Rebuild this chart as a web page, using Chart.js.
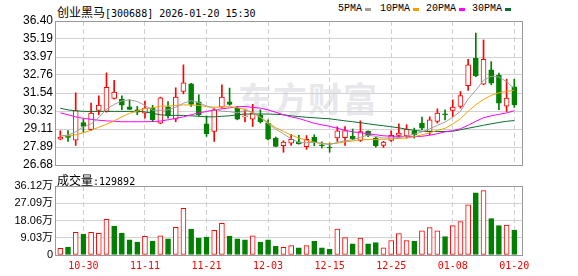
<!DOCTYPE html>
<html>
<head>
<meta charset="utf-8">
<title>创业黑马 K线</title>
<script src="https://cdn.jsdelivr.net/npm/chart.js@4.4.1/dist/chart.umd.min.js"></script>
<style>
  body { margin: 0; width: 578px; height: 276px; background: #fff; position: relative; overflow: hidden; }
  canvas { position: absolute; left: 0; }
  .txt { position: absolute; white-space: nowrap; line-height: 12px; color: #000; }
  .cjk { font: 12px 'Noto Sans CJK SC', sans-serif; }
  .num { font: 10px 'DejaVu Sans Mono', monospace; }
  .leg { font: 10px 'Liberation Mono', monospace; }
  .box { position: absolute; width: 6px; height: 3px; top: 8px; }
  #wm { position: absolute; left: 238px; top: 73px; line-height: 34px; font: bold 34px 'Noto Sans CJK SC', sans-serif; color: #e8e8ec; letter-spacing: 1px; }
</style>
</head>
<body>
<div id="wm">东方财富</div>
<div class="txt" style="left:57px;top:3px"><span class="cjk">创业黑马</span><span class="num">[300688] 2026-01-20 15:30</span></div>
<div class="txt leg" style="left:338px;top:3px">5PMA</div><div class="box" style="left:365px;background:#a0a0a0"></div>
<div class="txt leg" style="left:380px;top:3px">10PMA</div><div class="box" style="left:413px;background:#f2a200"></div>
<div class="txt leg" style="left:426px;top:3px">20PMA</div><div class="box" style="left:459px;background:#ff00ff"></div>
<div class="txt leg" style="left:472px;top:3px">30PMA</div><div class="box" style="left:505px;background:#0b6e2f"></div>
<canvas id="kline" width="578" height="180" style="top:0"></canvas>
<canvas id="vol" width="578" height="106" style="top:170px"></canvas>
<div class="txt" style="left:57px;top:171px"><span class="cjk">成交量</span><span class="num">:129892</span></div>
<script>
// trading days shown in the window (MM-DD)
const dates = [
  '10-27','10-28','10-29','10-30','10-31','11-03','11-04','11-05','11-06','11-07',
  '11-10','11-11','11-12','11-13','11-14','11-17','11-18','11-19','11-20','11-21',
  '11-24','11-25','11-26','11-27','11-28','12-01','12-02','12-03','12-04','12-05',
  '12-08','12-09','12-10','12-11','12-12','12-15','12-16','12-17','12-18','12-19',
  '12-22','12-23','12-24','12-25','12-26','12-29','12-30','12-31','01-05','01-06',
  '01-07','01-08','01-09','01-12','01-13','01-14','01-15','01-16','01-19','01-20'
];
// indexes of the dates that get a label and a dashed grid line
const dateTickIdx = [3, 11, 19, 27, 35, 43, 51, 59];

// daily prices
const opens = [
  28.42,28.62,28.36,29.55,29.06,30.36,30.30,31.18,31.13,30.61,
  30.41,30.18,30.51,29.50,30.61,29.78,31.64,32.16,30.94,29.46,
  28.94,30.59,30.94,30.52,29.93,29.78,30.04,29.51,28.50,27.98,
  28.16,28.25,27.91,28.54,28.00,27.86,28.50,28.53,28.61,28.34,
  28.96,28.49,28.01,28.34,28.67,28.65,28.99,29.51,28.94,29.62,
  30.09,30.36,30.63,32.04,33.89,32.14,33.10,32.73,30.65,31.95
];
const highs = [
  28.99,29.01,31.55,29.78,30.86,31.35,32.90,32.39,31.35,31.08,
  30.63,31.00,30.71,31.26,30.96,31.89,33.44,32.20,31.42,30.00,
  30.52,32.09,31.87,30.63,30.41,30.78,30.41,29.73,28.57,28.32,
  28.75,28.69,28.67,28.72,28.25,28.16,29.26,29.28,29.11,29.66,
  28.99,28.55,28.28,28.99,29.46,29.40,29.17,29.91,29.93,30.47,
  30.41,31.08,31.64,33.82,35.59,35.12,33.66,32.88,32.47,32.47
];
const lows = [
  28.38,28.27,28.00,28.88,28.99,30.07,30.25,31.13,30.41,30.41,
  30.07,29.84,29.60,29.46,29.84,29.60,31.48,30.63,29.97,28.61,
  28.27,30.52,30.71,29.73,29.58,29.28,29.51,28.38,27.91,27.54,
  28.01,28.08,27.74,27.98,27.83,27.54,28.27,28.01,28.38,28.27,
  28.59,27.88,27.86,28.27,28.50,28.50,28.50,29.06,28.72,29.51,
  29.73,29.95,30.52,31.71,32.65,32.09,32.09,30.41,30.29,30.57
];
const closes = [
  28.56,28.54,30.36,29.28,30.18,30.72,31.93,31.60,30.72,30.44,
  30.25,30.52,29.73,31.21,30.00,31.26,32.22,30.77,30.07,28.79,
  30.41,31.26,30.77,29.77,29.95,30.18,29.60,28.42,27.93,28.22,
  28.42,28.11,28.42,28.22,27.98,27.83,28.99,29.00,28.45,28.94,
  28.65,27.98,28.22,28.69,28.84,29.11,28.72,29.17,29.73,30.18,
  30.07,30.59,31.36,33.44,32.70,33.82,32.20,30.86,31.19,30.74
];

// moving averages as drawn
const ma5 = [
  28.65,28.69,28.92,29.26,29.45,29.88,30.45,30.77,31.01,31.08,
  30.97,30.69,30.38,30.37,30.40,30.58,30.85,31.02,30.88,30.67,
  30.48,30.31,30.28,30.20,30.35,30.25,29.90,29.45,29.10,28.78,
  28.45,28.20,28.18,28.20,28.15,28.05,28.20,28.32,28.38,28.55,
  28.70,28.61,28.50,28.51,28.53,28.63,28.76,28.91,29.12,29.36,
  29.57,29.90,30.30,31.14,31.72,32.40,32.67,32.63,32.30,31.85
];
const ma10 = [
  28.65,28.65,28.72,28.86,29.02,29.23,29.43,29.66,29.93,30.17,
  30.32,30.50,30.54,30.65,30.66,30.70,30.74,30.73,30.70,30.62,
  30.58,30.59,30.62,30.54,30.45,30.20,29.90,29.55,29.20,28.95,
  28.70,28.50,28.35,28.22,28.12,28.10,28.15,28.24,28.30,28.38,
  28.40,28.40,28.42,28.45,28.47,28.50,28.59,28.72,28.85,29.02,
  29.15,29.45,29.80,30.30,30.75,31.10,31.38,31.55,31.65,31.72
];
const ma20 = [
  30.20,30.07,29.93,29.83,29.76,29.70,29.66,29.63,29.60,29.60,
  29.60,29.60,29.61,29.65,29.73,29.83,29.93,30.07,30.20,30.29,
  30.40,30.47,30.54,30.61,30.63,30.57,30.52,30.40,30.24,30.07,
  29.93,29.82,29.66,29.50,29.39,29.29,29.16,29.02,28.92,28.86,
  28.79,28.72,28.65,28.62,28.62,28.59,28.59,28.62,28.69,28.79,
  28.92,28.99,29.13,29.36,29.63,29.87,30.00,30.10,30.20,30.34
];
const ma30 = [
  30.51,30.40,30.34,30.30,30.30,30.30,30.30,30.30,30.30,30.30,
  30.30,30.27,30.17,30.07,30.03,30.03,30.03,30.00,29.97,29.93,
  29.93,29.97,30.00,30.07,30.12,30.12,30.12,30.12,30.10,30.07,
  30.00,29.95,29.90,29.87,29.83,29.80,29.73,29.66,29.60,29.53,
  29.46,29.39,29.33,29.26,29.19,29.09,29.02,28.96,28.94,28.94,
  28.94,28.96,29.06,29.16,29.26,29.36,29.46,29.55,29.63,29.68
];

// volume in 万 and whether its bar is red (1) or green (0)
const volumes = [
  3.5,4.2,11.9,11.0,11.9,11.3,18.7,15.2,11.5,7.9,
  6.8,9.8,7.3,10.1,8.4,14.5,24.4,13.6,8.9,9.4,
  12.9,16.6,9.9,8.4,7.9,10.1,6.8,7.9,4.7,4.0,
  4.9,3.8,4.9,7.2,3.8,3.0,13.6,9.1,5.9,8.9,
  5.9,6.5,3.7,7.5,11.2,7.5,7.2,12.7,14.3,12.7,
  9.6,15.4,17.5,26.3,32.6,33.7,19.0,15.4,15.7,12.99
];
const volUp = [
  1,0,1,0,1,1,1,0,0,0,
  0,1,0,1,0,1,1,0,0,0,
  1,1,0,0,0,1,0,0,0,1,
  1,0,1,0,0,0,1,1,0,1,
  0,0,1,1,1,1,0,1,1,1,
  0,1,1,1,0,1,0,0,1,0
];

// axis tick values
const priceTicks = [26.68, 27.89, 29.11, 30.32, 31.54, 32.76, 33.97, 35.19, 36.40];
const volTicks = [0, 9.03, 18.06, 27.09, 36.12];

const RED = '#ff0000';
const GREEN = '#008000';
const pt = arr => arr.map((v, i) => ({ x: i, y: v }));
const isUp = i => closes[i] >= opens[i];

// grey box round the plot area
const frame = {
  id: 'frame',
  afterDraw(chart) {
    const a = chart.chartArea;
    const ctx = chart.ctx;
    const x1 = Math.round(a.left) - 0.5, x2 = Math.round(a.right) + 0.5;
    const y1 = Math.round(a.top) + 0.5, y2 = Math.round(a.bottom) + 0.5;
    ctx.save();
    ctx.strokeStyle = '#999';
    ctx.lineWidth = 1;
    ctx.strokeRect(x1, y1, x2 - x1, y2 - y1);
    ctx.restore();
  }
};

const xAxis = (labels) => ({
  type: 'linear',
  min: -0.56,
  max: 60.0,
  offset: false,
  afterBuildTicks: s => { s.ticks = dateTickIdx.map(v => ({ value: v })); },
  afterFit: s => { s.height = labels ? 21 : 0; },
  grid: { color: '#d0d0d0', drawTicks: false, offset: false },
  border: { display: false, dash: [5, 3] },
  ticks: {
    display: labels,
    autoSkip: false,
    maxRotation: 0,
    padding: 5,
    color: RED,
    font: { family: "'DejaVu Sans Mono', monospace", size: 10 },
    callback: v => dates[v]
  }
});

const baseOptions = {
  responsive: false,
  animation: false,
  events: [],
  plugins: { legend: { display: false }, tooltip: { enabled: false } }
};

// price panel: wicks, bodies and the four averages
new Chart(document.getElementById('kline'), {
  type: 'bar',
  data: {
    datasets: [
      { type: 'line', data: pt(ma5), borderColor: '#a0a0a0', borderWidth: 1, pointRadius: 0, order: 0 },
      { type: 'line', data: pt(ma10), borderColor: '#f2a200', borderWidth: 1, pointRadius: 0, order: 0 },
      { type: 'line', data: pt(ma20), borderColor: '#ff00ff', borderWidth: 1, pointRadius: 0, order: 0 },
      { type: 'line', data: pt(ma30), borderColor: '#0b6e2f', borderWidth: 1, pointRadius: 0, order: 0 },
      {
        data: opens.map((o, i) => ({ x: i, y: [o, closes[i]] })),
        backgroundColor: opens.map((o, i) => isUp(i) ? '#fff' : GREEN),
        borderColor: opens.map((o, i) => isUp(i) ? RED : GREEN),
        borderWidth: 1, borderSkipped: false, barThickness: 5, minBarLength: 1,
        grouped: false, order: 1
      },
      {
        data: lows.map((l, i) => ({ x: i, y: [l, highs[i]] })),
        backgroundColor: opens.map((o, i) => isUp(i) ? RED : GREEN),
        borderWidth: 0, barThickness: 1, grouped: false, order: 2
      }
    ]
  },
  options: {
    ...baseOptions,
    layout: { padding: { left: 0, right: 56, top: 21, bottom: 15 } },
    scales: {
      x: xAxis(false),
      y: {
        min: 26.68,
        max: 36.40,
        afterBuildTicks: s => { s.ticks = priceTicks.map(v => ({ value: v })); },
        afterFit: s => { s.width = 56; },
        grid: { color: '#d2d2d2', drawTicks: false },
        border: { display: false },
        ticks: {
          padding: 3,
          color: '#000',
          font: { family: "'Liberation Sans', Arial, sans-serif", size: 12 },
          callback: v => v.toFixed(2)
        }
      }
    }
  },
  plugins: [frame]
});

// volume panel
new Chart(document.getElementById('vol'), {
  type: 'bar',
  data: {
    datasets: [{
      data: pt(volumes),
      backgroundColor: volUp.map(u => u ? '#fff' : GREEN),
      borderColor: volUp.map(u => u ? RED : GREEN),
      borderWidth: 1, borderSkipped: false, barThickness: 5, grouped: false
    }]
  },
  options: {
    ...baseOptions,
    layout: { padding: { left: 0, right: 56, top: 16, bottom: 0 } },
    scales: {
      x: xAxis(true),
      y: {
        min: 0,
        max: 36.12,
        afterBuildTicks: s => { s.ticks = volTicks.map(v => ({ value: v })); },
        afterFit: s => { s.width = 56; },
        grid: { color: '#d2d2d2', drawTicks: false },
        border: { display: false },
        ticks: {
          padding: 3,
          color: '#000',
          font: { family: "'Liberation Sans', 'Noto Sans CJK SC', sans-serif", size: 11 },
          callback: v => v === 0 ? '0' : v.toFixed(2) + '万'
        }
      }
    }
  },
  plugins: [frame]
});
</script>
</body>
</html>
